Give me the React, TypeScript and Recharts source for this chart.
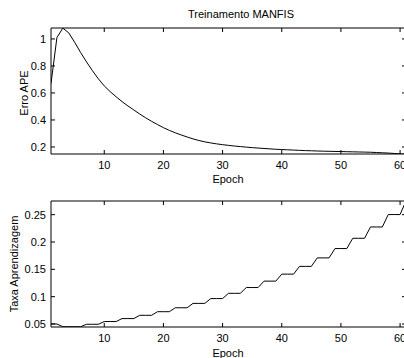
import React from 'react'
import { LineChart, Line, XAxis, YAxis } from 'recharts'

const epochs = Array.from({ length: 61 }, (_, i) => i + 1)

const erroApe = [
  0.67, 1.01, 1.08, 1.045, 0.975, 0.9, 0.83, 0.765, 0.705, 0.652,
  0.61, 0.572, 0.536, 0.504, 0.474, 0.444, 0.416, 0.39, 0.366, 0.343,
  0.323, 0.305, 0.289, 0.274, 0.26, 0.248, 0.238, 0.23, 0.223, 0.217,
  0.212, 0.207, 0.203, 0.199, 0.195, 0.192, 0.189, 0.186, 0.183, 0.181,
  0.179, 0.177, 0.175, 0.173, 0.172, 0.17, 0.169, 0.168, 0.167, 0.166,
  0.165, 0.164, 0.163, 0.162, 0.161, 0.159, 0.157, 0.155, 0.152, 0.149,
  0.147,
]

const taxa = [
  0.05, 0.05, 0.045, 0.045, 0.045, 0.045, 0.0495, 0.0495, 0.0495, 0.0545,
  0.0545, 0.0545, 0.0599, 0.0599, 0.0599, 0.0659, 0.0659, 0.0659, 0.0725, 0.0725,
  0.0725, 0.0797, 0.0797, 0.0797, 0.0877, 0.0877, 0.0877, 0.0965, 0.0965, 0.0965,
  0.1061, 0.1061, 0.1061, 0.1167, 0.1167, 0.1167, 0.1284, 0.1284, 0.1284, 0.1412,
  0.1412, 0.1412, 0.1554, 0.1554, 0.1554, 0.1709, 0.1709, 0.1709, 0.188, 0.188,
  0.188, 0.2068, 0.2068, 0.2068, 0.2275, 0.2275, 0.2275, 0.2502, 0.2502, 0.2502,
  0.2752,
]

const xTicks = [10, 20, 30, 40, 50, 60]
const erroTicks = [0.2, 0.4, 0.6, 0.8, 1]
const taxaTicks = [0.05, 0.1, 0.15, 0.2, 0.25]

const rows = epochs.map((e, i) => ({ epoch: e, erro: erroApe[i], taxa: taxa[i] }))

const FONT = '"Liberation Sans", Arial, sans-serif'
const tickStyle = { fontSize: 11, fill: '#000' }
const blank = () => ''

function Panel({ dataKey, domain, ticks, height, marginTop, bottomH }: {
  dataKey: string; domain: [number, number]; ticks: number[]; height: number; marginTop: number; bottomH: number
}) {
  return (
    <LineChart width={407} height={height} data={rows} margin={{ top: marginTop, right: 0, bottom: 0, left: 0 }}>
      <XAxis xAxisId="b" dataKey="epoch" type="number" domain={[1, 61]} ticks={xTicks} interval={0}
        allowDataOverflow height={bottomH} stroke="#000" tickSize={-4} tickMargin={11} tick={tickStyle} />
      <XAxis xAxisId="t" orientation="top" dataKey="epoch" type="number" domain={[1, 61]} ticks={xTicks}
        interval={0} allowDataOverflow height={1} stroke="#000" tickSize={-4} tickFormatter={blank} />
      <YAxis yAxisId="l" type="number" domain={domain} ticks={ticks} interval={0} allowDataOverflow
        width={51} stroke="#000" tickSize={-4} tickMargin={9} tick={tickStyle} />
      <YAxis yAxisId="r" orientation="right" type="number" domain={domain} ticks={ticks} interval={0}
        allowDataOverflow width={1} stroke="#000" tickSize={-4} tickFormatter={blank} />
      <Line xAxisId="b" yAxisId="l" type="linear" dataKey={dataKey} stroke="#000" strokeWidth={1}
        dot={false} isAnimationActive={false} />
    </LineChart>
  )
}

const label = (text: string, x: number, y: number, rotate = false): React.CSSProperties => ({
  position: 'absolute', left: x, top: y, fontSize: 11, lineHeight: 1, whiteSpace: 'nowrap', color: '#000',
  transform: `translate(-50%, -50%)${rotate ? ' rotate(-90deg)' : ''}`,
})

export default function App() {
  return (
    <div style={{ position: 'absolute', left: 0, top: 0, width: 404, height: 358, overflow: 'hidden',
      background: '#fff', fontFamily: FONT }}>
      <div style={{ position: 'absolute', left: 0, top: 0 }}>
        <Panel dataKey="erro" domain={[0.148, 1.081]} ticks={erroTicks} height={180} marginTop={27} bottomH={26} />
      </div>
      <div style={{ position: 'absolute', left: 0, top: 180 }}>
        <Panel dataKey="taxa" domain={[0.0445, 0.275]} ticks={taxaTicks} height={178} marginTop={20} bottomH={31} />
      </div>
      <div style={label('', 241, 14)}>Treinamento MANFIS</div>
      <div style={label('', 24, 93, true)}>Erro APE</div>
      <div style={label('', 228, 179)}>Epoch</div>
      <div style={label('', 14, 264, true)}>Taxa Aprendizagem</div>
      <div style={label('', 228, 352.5)}>Epoch</div>
    </div>
  )
}
